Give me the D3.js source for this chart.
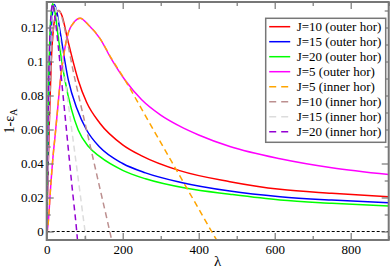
<!DOCTYPE html>
<html lang="en">
<head>
<meta charset="utf-8">
<title>1-eps_A vs lambda</title>
<script src="https://d3js.org/d3.v7.min.js"></script>
<style>
  body { margin: 0; background: #fff; }
  svg { display: block; font-family: "Liberation Serif", "DejaVu Serif", serif; }
</style>
</head>
<body>
<svg width="390" height="269"></svg>
<script>

// ---- data ----
var xTicks = [0, 200, 400, 600, 800],
    xMinor = [100, 300, 500, 700, 900],
    yTicks = [0, 0.02, 0.04, 0.06, 0.08, 0.1, 0.12],
    yMinor = [0.01, 0.03, 0.05, 0.07, 0.09, 0.11, 0.13];

// outer horizon curves
var lamJ10Out = [0, 3, 7, 12, 18, 25, 32, 40, 55, 83, 105, 140, 200, 250, 350, 482, 614, 750, 900],
    valJ10Out = [0, 0.03, 0.065, 0.1, 0.12, 0.128, 0.130, 0.127, 0.113, 0.089, 0.076, 0.0637, 0.051, 0.0445, 0.0358, 0.0293, 0.0248, 0.0225, 0.0205];
var lamJ15Out = [0, 3, 6, 10, 15, 20, 26, 35, 57, 80, 105, 140, 200, 260, 351, 482, 614, 750, 900],
    valJ15Out = [0, 0.04, 0.08, 0.11, 0.128, 0.1335, 0.130, 0.118, 0.089, 0.072, 0.0597, 0.0495, 0.040, 0.0345, 0.029, 0.0238, 0.0205, 0.0185, 0.0169];
var lamJ20Out = [0, 2, 5, 9, 13, 16, 21, 30, 48, 65, 83, 110, 140, 200, 260, 368, 482, 614, 750, 900],
    valJ20Out = [0, 0.04, 0.085, 0.118, 0.131, 0.134, 0.130, 0.115, 0.089, 0.072, 0.0597, 0.050, 0.044, 0.036, 0.031, 0.0254, 0.0219, 0.0185, 0.0166, 0.015];
var lamJ5Out = [0, 4, 10, 17, 22, 30, 35, 45, 57, 70, 88, 110, 140, 170, 206, 250, 300, 350, 400, 482, 614, 750, 900],
    valJ5Out = [-0.002, 0.005, 0.025, 0.045, 0.056, 0.075, 0.087, 0.104, 0.117, 0.1225, 0.1254, 0.1215, 0.1136, 0.1015, 0.0891, 0.0775, 0.0685, 0.062, 0.0568, 0.050, 0.0428, 0.0375, 0.0335];

// inner horizon curves
var lamJ5In = [0, 4, 10, 17, 22, 30, 35, 45, 57, 70, 88, 110, 140, 170, 206, 260, 330, 400, 434, 447],
    valJ5In = [-0.002, 0.005, 0.025, 0.045, 0.056, 0.075, 0.087, 0.104, 0.117, 0.1225, 0.1254, 0.1215, 0.1136, 0.102, 0.0891, 0.068, 0.0406, 0.0133, 0, -0.005];
var lamJ10In = [0, 3, 7, 12, 18, 25, 32, 40, 55, 70, 85, 105, 123, 140, 166, 171],
    valJ10In = [0, 0.03, 0.065, 0.1, 0.12, 0.128, 0.130, 0.126, 0.111, 0.094, 0.079, 0.0597, 0.042, 0.0254, 0, -0.005];
var lamJ15In = [0, 3, 6, 10, 15, 20, 26, 35, 50, 66, 80, 101, 104],
    valJ15In = [0, 0.04, 0.08, 0.11, 0.128, 0.1335, 0.129, 0.114, 0.087, 0.0597, 0.036, 0, -0.005];
var lamJ20In = [0, 2, 5, 9, 13, 16, 21, 30, 40, 52, 65, 79, 81],
    valJ20In = [0, 0.04, 0.085, 0.118, 0.131, 0.134, 0.127, 0.110, 0.087, 0.0597, 0.030, 0, -0.005];

var series = [
  {name: "J=10 (outer hor)", lam: lamJ10Out, val: valJ10Out, color: "#ff0000", dash: null},
  {name: "J=15 (outer hor)", lam: lamJ15Out, val: valJ15Out, color: "#0000ff", dash: null},
  {name: "J=20 (outer hor)", lam: lamJ20Out, val: valJ20Out, color: "#00ff00", dash: null},
  {name: "J=5 (outer hor)",  lam: lamJ5Out,  val: valJ5Out,  color: "#ff00ff", dash: null},
  {name: "J=5 (inner hor)",  lam: lamJ5In,   val: valJ5In,   color: "#ffa500", dash: "6,4"},
  {name: "J=10 (inner hor)", lam: lamJ10In,  val: valJ10In,  color: "#bc8f8f", dash: "6,4"},
  {name: "J=15 (inner hor)", lam: lamJ15In,  val: valJ15In,  color: "#dcdcdc", dash: "6,4"},
  {name: "J=20 (inner hor)", lam: lamJ20In,  val: valJ20In,  color: "#9400d3", dash: "6,4"}
];

// ---- layout ----
var svg = d3.select("svg"),
    pLeft = 46.7, pRight = 388.7, pTop = 2, pBottom = 240;

var x = d3.scaleLinear().domain([0, 900]).range([pLeft, pRight]),
    y = d3.scaleLinear().domain([-0.005, 0.135]).range([pBottom, pTop]);

svg.append("clipPath").attr("id", "plotclip")
  .append("rect")
    .attr("x", pLeft).attr("y", pTop)
    .attr("width", pRight - pLeft).attr("height", pBottom - pTop);

// zero line
svg.append("line")
    .attr("x1", pLeft).attr("x2", pRight)
    .attr("y1", y(0)).attr("y2", y(0))
    .attr("stroke", "#000")
    .attr("stroke-width", 1)
    .attr("stroke-dasharray", "3,2");

// curves
var line = d3.line()
    .x(function(d) { return x(d[0]); })
    .y(function(d) { return y(d[1]); })
    .curve(d3.curveMonotoneX);

svg.append("g").attr("clip-path", "url(#plotclip)")
  .selectAll("path")
  .data(series)
  .enter().append("path")
    .attr("d", function(s) { return line(s.lam.map(function(l, i) { return [l, s.val[i]]; })); })
    .attr("fill", "none")
    .attr("stroke", function(s) { return s.color; })
    .attr("stroke-width", 1.5)
    .attr("stroke-dasharray", function(s) { return s.dash; });

// axes with inward ticks on all four sides
function styleAxis(g) {
  g.select(".domain").remove();
  g.selectAll(".tick line").attr("stroke", "#777").attr("stroke-width", 1.2);
  g.selectAll(".tick text").attr("fill", "#000").style("font-size", "13px")
    .style("font-family", "'Liberation Serif', serif");
}

var fmtY = function(d) { return String(+d.toFixed(2)); };

svg.append("g").attr("transform", "translate(0," + pBottom + ")")
  .call(d3.axisBottom(x).tickValues(xTicks).tickSize(-7).tickPadding(5))
  .call(styleAxis);
svg.append("g").attr("transform", "translate(0," + pBottom + ")")
  .call(d3.axisBottom(x).tickValues(xMinor).tickSize(-4).tickFormat(""))
  .call(styleAxis);
svg.append("g").attr("transform", "translate(0," + pTop + ")")
  .call(d3.axisTop(x).tickValues(xTicks).tickSize(-7).tickFormat(""))
  .call(styleAxis);
svg.append("g").attr("transform", "translate(0," + pTop + ")")
  .call(d3.axisTop(x).tickValues(xMinor).tickSize(-4).tickFormat(""))
  .call(styleAxis);

svg.append("g").attr("transform", "translate(" + pLeft + ",0)")
  .call(d3.axisLeft(y).tickValues(yTicks).tickSize(-7).tickPadding(3).tickFormat(fmtY))
  .call(styleAxis);
svg.append("g").attr("transform", "translate(" + pLeft + ",0)")
  .call(d3.axisLeft(y).tickValues(yMinor).tickSize(-4).tickFormat(""))
  .call(styleAxis);
svg.append("g").attr("transform", "translate(" + pRight + ",0)")
  .call(d3.axisRight(y).tickValues(yTicks).tickSize(-7).tickFormat(""))
  .call(styleAxis);
svg.append("g").attr("transform", "translate(" + pRight + ",0)")
  .call(d3.axisRight(y).tickValues(yMinor).tickSize(-4).tickFormat(""))
  .call(styleAxis);

// frame
svg.append("rect")
    .attr("x", pLeft).attr("y", pTop)
    .attr("width", pRight - pLeft).attr("height", pBottom - pTop)
    .attr("fill", "none")
    .attr("stroke", "#777")
    .attr("stroke-width", 2);

// axis titles
svg.append("text")
    .attr("x", (pLeft + pRight) / 2)
    .attr("y", 266)
    .attr("text-anchor", "middle")
    .style("font-size", "15px")
    .text("λ");

var yl = svg.append("text")
    .attr("transform", "translate(14," + ((pTop + pBottom) / 2) + ") rotate(-90)")
    .attr("text-anchor", "middle")
    .style("font-size", "14px");
yl.append("tspan").text("1-ε");
yl.append("tspan").attr("dy", 3).style("font-size", "10px").text("A");

// legend
var lg = svg.append("g").attr("transform", "translate(265.7,18.3)");
lg.append("rect")
    .attr("width", 120).attr("height", 124)
    .attr("fill", "#fff")
    .attr("stroke", "#777")
    .attr("stroke-width", 1.5);

var rows = lg.selectAll(".row")
  .data(series)
  .enter().append("g")
    .attr("class", "row")
    .attr("transform", function(d, i) { return "translate(0," + (8.4 + i * 15) + ")"; });

rows.append("line")
    .attr("x1", 3.5).attr("x2", 24.5)
    .attr("stroke", function(s) { return s.color; })
    .attr("stroke-width", 1.5)
    .attr("stroke-dasharray", function(s) { return s.dash ? "7,5" : null; });

rows.append("text")
    .attr("x", 31)
    .attr("dy", "0.35em")
    .style("font-size", "13px")
    .text(function(s) { return s.name; });

</script>
</body>
</html>
